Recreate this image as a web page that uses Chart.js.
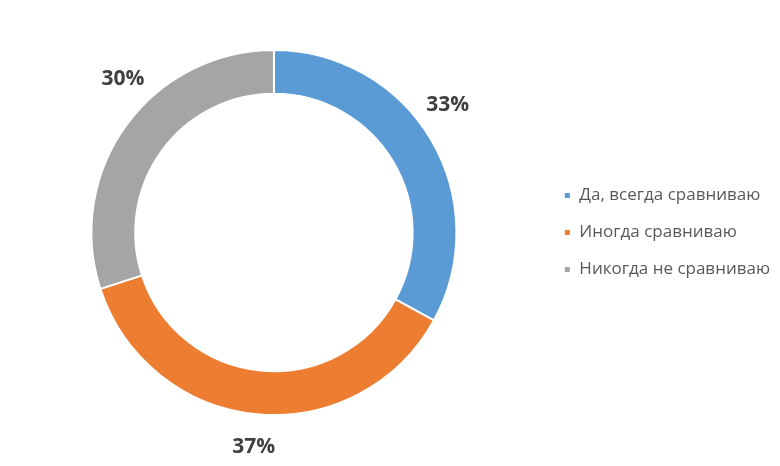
<!DOCTYPE html>
<html>
<head>
<meta charset="utf-8">
<script src="https://cdn.jsdelivr.net/npm/chart.js@4"></script>
<style>
  html, body { margin: 0; padding: 0; background: #fff; }
  #wrap { width: 780px; height: 466px; }
</style>
</head>
<body>
<div id="wrap"><canvas id="myDonut"></canvas></div>
<script>
const answers = ['Да, всегда сравниваю', 'Иногда сравниваю', 'Никогда не сравниваю'];
const shares = [33, 37, 30];
const sliceColors = ['#5B9BD5', '#ED7D31', '#A5A5A5'];

// percent labels outside the ring, Excel "best fit" style
const outsideLabels = {
  id: 'outsideLabels',
  afterDatasetsDraw(chart, args, opts) {
    const ctx = chart.ctx;
    const meta = chart.getDatasetMeta(0);
    ctx.save();
    ctx.font = 'bold 21px "Open Sans"';
    ctx.fillStyle = '#404040';
    ctx.textAlign = 'center';
    ctx.textBaseline = 'middle';
    meta.data.forEach((arc, i) => {
      const { x, y, startAngle, endAngle, outerRadius } = arc.getProps(['x', 'y', 'startAngle', 'endAngle', 'outerRadius'], true);
      const mid = (startAngle + endAngle) / 2 + (opts.nudge[i] || 0) * Math.PI / 180;
      const r = outerRadius + opts.gap;
      ctx.fillText(shares[i] + '%', x + r * Math.cos(mid), y + r * Math.sin(mid));
    });
    ctx.restore();
  },
};

const ctx = document.getElementById('myDonut').getContext('2d');
const myDonut = new Chart(ctx, {
  type: 'doughnut',
  data: {
    labels: answers,
    datasets: [{
      data: shares,
      backgroundColor: sliceColors,
      borderColor: '#ffffff',
      borderWidth: 2,
    }],
  },
  options: {
    responsive: true,
    maintainAspectRatio: false,
    animation: false,
    cutout: '76%',
    layout: { padding: { top: 49, bottom: 50, left: 4, right: 0 } },
    plugins: {
      tooltip: { enabled: false },
      legend: {
        position: 'right',
        labels: {
          boxWidth: 7,
          boxHeight: 7,
          padding: 20,
          color: '#595959',
          font: { family: 'Open Sans', size: 17 },
        },
      },
      outsideLabels: { gap: 33, nudge: [-5.6, 0, 9.5] },
    },
  },
  plugins: [outsideLabels],
});
</script>
</body>
</html>
